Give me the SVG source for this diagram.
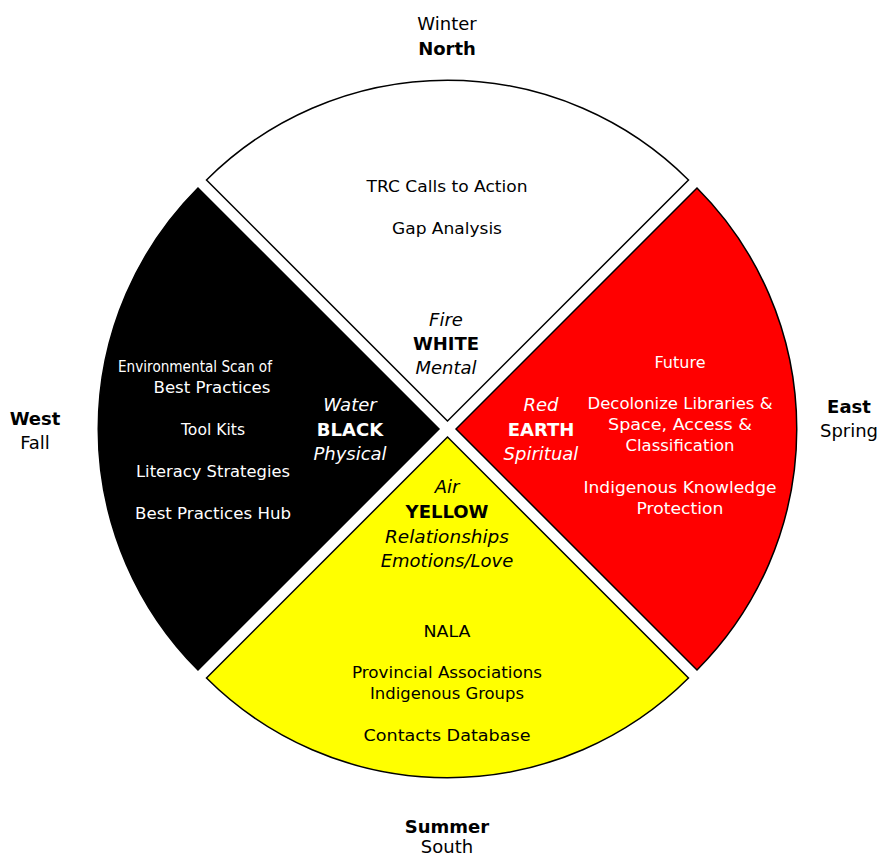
<svg xmlns="http://www.w3.org/2000/svg" width="881" height="856" viewBox="0 0 881 856">
<style>
text{font-family:"DejaVu Sans","Liberation Sans",sans-serif;text-anchor:middle}
.s{font-size:16.5px}
.l{font-size:18px}
.b{font-weight:bold}
.i{font-style:italic}
.k{fill:#000}
.w{fill:#fff}
.wedge{stroke:#000;stroke-width:1.5}
</style>
<rect width="881" height="856" fill="#fff"/>
<g id="north">
<path class="wedge" fill="#fff" d="M447.5 421 L206.5 180 A341 341 0 0 1 688.5 180 Z"/>
<text class="s k" x="447" y="192" textLength="161" lengthAdjust="spacingAndGlyphs">TRC Calls to Action</text>
<text class="s k" x="447" y="234" textLength="110" lengthAdjust="spacingAndGlyphs">Gap Analysis</text>
<text class="l i k" x="446" y="326">Fire</text>
<text class="l b k" x="446" y="350">WHITE</text>
<text class="l i k" x="446" y="374">Mental</text>
</g>
<g id="east">
<path class="wedge" fill="#ff0000" d="M456 429 L697 188 A341 341 0 0 1 697 670 Z"/>
<text class="s w" x="680" y="368" textLength="51" lengthAdjust="spacingAndGlyphs">Future</text>
<text class="s w" x="680" y="409" textLength="185" lengthAdjust="spacingAndGlyphs">Decolonize Libraries &amp;</text>
<text class="s w" x="680" y="430" textLength="144" lengthAdjust="spacingAndGlyphs">Space, Access &amp;</text>
<text class="s w" x="680" y="451" textLength="109" lengthAdjust="spacingAndGlyphs">Classification</text>
<text class="s w" x="680" y="493" textLength="193" lengthAdjust="spacingAndGlyphs">Indigenous Knowledge</text>
<text class="s w" x="680" y="514" textLength="87" lengthAdjust="spacingAndGlyphs">Protection</text>
<text class="l i w" x="541" y="411">Red</text>
<text class="l b w" x="541" y="436">EARTH</text>
<text class="l i w" x="541" y="460">Spiritual</text>
</g>
<g id="south">
<path class="wedge" fill="#ffff00" d="M447.5 437 L688.5 678 A341 341 0 0 1 206.5 678 Z"/>
<text class="l i k" x="447" y="493">Air</text>
<text class="l b k" x="447" y="518">YELLOW</text>
<text class="l i k" x="447" y="543" textLength="124" lengthAdjust="spacingAndGlyphs">Relationships</text>
<text class="l i k" x="447" y="567">Emotions/Love</text>
<text class="s k" x="447" y="637" textLength="47" lengthAdjust="spacingAndGlyphs">NALA</text>
<text class="s k" x="447" y="678" textLength="190" lengthAdjust="spacingAndGlyphs">Provincial Associations</text>
<text class="s k" x="447" y="699" textLength="154" lengthAdjust="spacingAndGlyphs">Indigenous Groups</text>
<text class="s k" x="447" y="741" textLength="167" lengthAdjust="spacingAndGlyphs">Contacts Database</text>
</g>
<g id="west">
<path class="wedge" fill="#000" d="M439 429 L198 670 A341 341 0 0 1 198 188 Z"/>
<text class="s w" x="195" y="372" textLength="154" lengthAdjust="spacingAndGlyphs">Environmental Scan of</text>
<text class="s w" x="212" y="393" textLength="117" lengthAdjust="spacingAndGlyphs">Best Practices</text>
<text class="s w" x="213" y="435" textLength="64" lengthAdjust="spacingAndGlyphs">Tool Kits</text>
<text class="s w" x="213" y="477" textLength="154" lengthAdjust="spacingAndGlyphs">Literacy Strategies</text>
<text class="s w" x="213" y="519" textLength="156" lengthAdjust="spacingAndGlyphs">Best Practices Hub</text>
<text class="l i w" x="350" y="411">Water</text>
<text class="l b w" x="350" y="436">BLACK</text>
<text class="l i w" x="350" y="460">Physical</text>
</g>
<g id="labels">
<text class="l k" x="447" y="30">Winter</text>
<text class="l b k" x="447" y="55">North</text>
<text class="l b k" x="849" y="413">East</text>
<text class="l k" x="849" y="437">Spring</text>
<text class="l b k" x="447" y="833">Summer</text>
<text class="l k" x="447" y="853">South</text>
<text class="l b k" x="35" y="425">West</text>
<text class="l k" x="35" y="449">Fall</text>
</g>
<g id="connectors"/>
</svg>
